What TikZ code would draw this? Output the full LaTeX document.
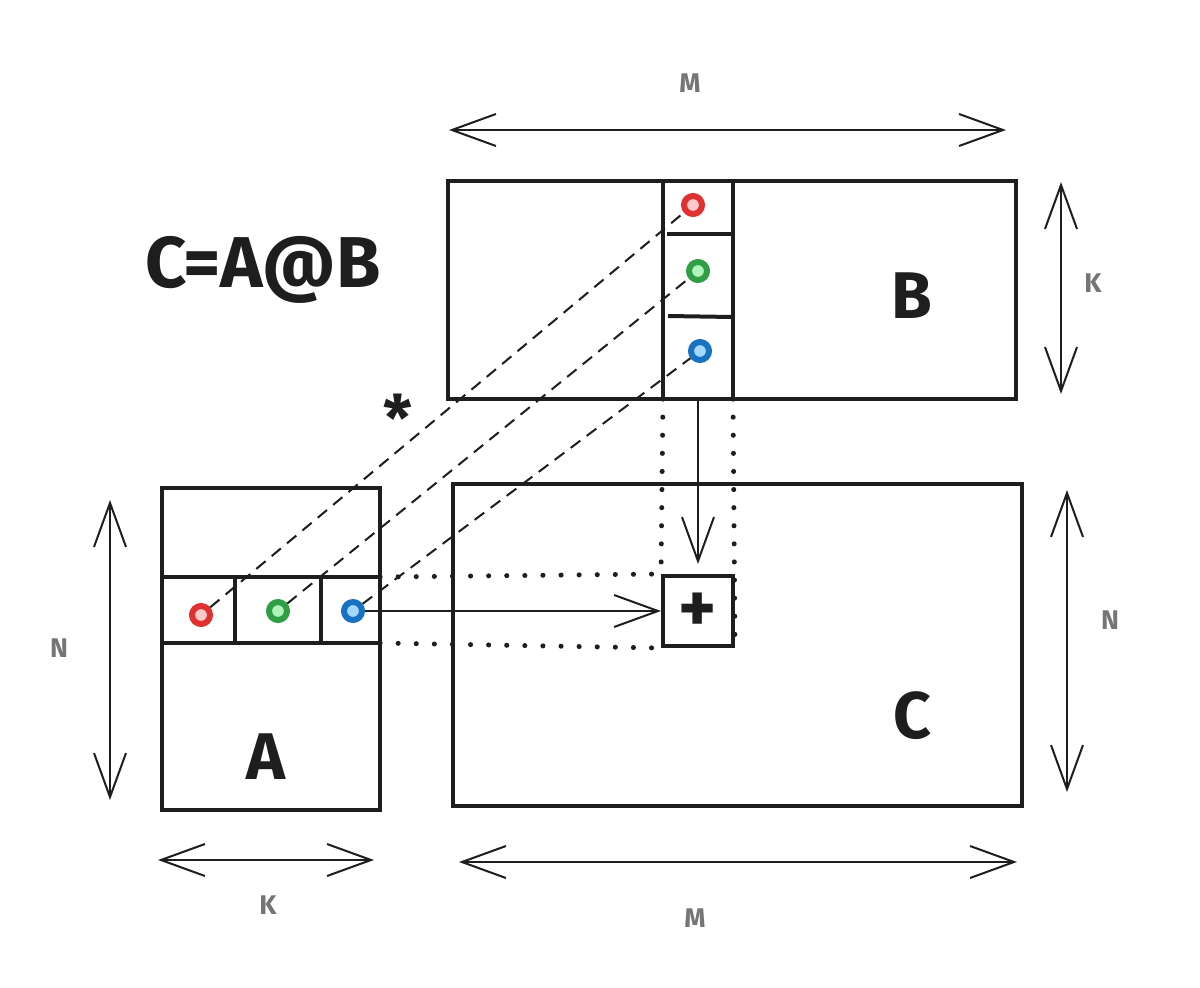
\documentclass[tikz,border=0pt]{standalone}
\usepackage{fontspec}
\setmainfont{Fira Sans}
\usetikzlibrary{arrows.meta}
\definecolor{ink}{HTML}{1E1E1E}
\definecolor{dimgrey}{HTML}{757575}
\definecolor{redS}{HTML}{E03131}\definecolor{redF}{HTML}{FFC9C9}
\definecolor{grnS}{HTML}{2F9E44}\definecolor{grnF}{HTML}{B2F2BB}
\definecolor{bluS}{HTML}{1971C2}\definecolor{bluF}{HTML}{A5D8FF}
\tikzset{
  mat/.style={draw=ink, line width=4pt, inner sep=0pt},
  divider/.style={draw=ink, line width=4pt},
  dimarrow/.style={draw=ink, line width=2pt,
    {Straight Barb[length=44pt,width=32pt]}-{Straight Barb[length=44pt,width=32pt]}},
  flowarrow/.style={draw=ink, line width=2pt, -{Straight Barb[length=44pt,width=32pt]}},
  dimlabel/.style={text=dimgrey, font=\fontsize{27}{27}\selectfont\bfseries, inner sep=0pt},
  biglabel/.style={text=ink, font=\fontsize{66}{66}\selectfont\bfseries, inner sep=0pt},
  dotmark/.style={circle, draw=#1S, fill=#1F, line width=6pt, minimum size=18pt, inner sep=0pt},
  dashln/.style={draw=ink, line width=2pt, dash pattern=on 12pt off 8pt},
  dotln/.style={draw=ink, line width=5pt, line cap=round, dash pattern=on 0.1pt off 18pt},
}
\begin{document}
\begin{tikzpicture}[x=1pt,y=-1pt]
\useasboundingbox[fill=white] (0,0) rectangle (1200,988);
% matrices
\node[mat, minimum width=568pt, minimum height=218pt] (B) at (732,290) {};
\node[mat, minimum width=218pt, minimum height=322pt] (A) at (271,649) {};
\node[mat, minimum width=569pt, minimum height=322pt] (C) at (737.5,645) {};
\node[mat, minimum width=70pt, minimum height=70pt] (P) at (698,611) {};
\node[biglabel, font=\fontsize{72}{72}\selectfont\bfseries] (plus) at (698,613) {+};
% B column
\coordinate (bcl) at (663,181); \coordinate (bclb) at (663,399);
\coordinate (bcr) at (733,181); \coordinate (bcrb) at (733,399);
\draw[divider] (bcl) -- (bclb);
\draw[divider] (bcr) -- (bcrb);
\draw[divider] (667,234) -- (731,234);
\draw[divider] (668,316) -- (733,317);
% A row
\coordinate (art) at (162,577); \coordinate (arte) at (380,577);
\coordinate (arb) at (162,643); \coordinate (arbe) at (380,643);
\draw[divider] (art) -- (arte);
\draw[divider] (arb) -- (arbe);
\draw[divider] (235,577) -- (235,643);
\draw[divider] (321,577) -- (321,643);
% labels
\node[biglabel] (Bl) at (912,296) {B};
\node[biglabel] (Al) at (266,757) {A};
\node[biglabel] (Cl) at (912,716) {C};
\node[biglabel, font=\fontsize{72}{72}\selectfont\bfseries] (eq) at (263,270) {C=A@B};
\node[text=ink, font=\fontsize{64}{64}\selectfont\bfseries, inner sep=0pt] (star) at (398,418) {*};
% dots
\node[dotmark=red] (rB) at (693,205) {};
\node[dotmark=grn] (gB) at (698,271) {};
\node[dotmark=blu] (bB) at (700,351) {};
\node[dotmark=red] (rA) at (201,615) {};
\node[dotmark=grn] (gA) at (278,611) {};
\node[dotmark=blu] (bA) at (353,611) {};
% dashed products
\draw[dashln] (rA) -- (rB);
\draw[dashln] (gA) -- (gB);
\draw[dashln] (bA) -- (bB);
% dotted guides
\draw[dotln] (bclb) -- (P.north west);
\draw[dotln] (bcrb) -- (P.south east);
\draw[dotln] (arte) -- (P.north west);
\draw[dotln] (arbe) -- (P.south west);
% flow arrows
\coordinate (colbot) at (698,400);
\draw[flowarrow, shorten >=10pt] (colbot) -- (P.north);
\draw[flowarrow] (bA) -- (P.west);
% dimension arrows
\coordinate (mt1) at (449,130); \coordinate (mt2) at (1006,130);
\draw[dimarrow] (mt1) -- (mt2);
\node[dimlabel] (mtl) at (690,83) {M};
\coordinate (kr1) at (1061,182); \coordinate (kr2) at (1061,394);
\draw[dimarrow] (kr1) -- (kr2);
\node[dimlabel] (krl) at (1093,283) {K};
\coordinate (nl1) at (110,500); \coordinate (nl2) at (110,800);
\draw[dimarrow] (nl1) -- (nl2);
\node[dimlabel] (nll) at (59,648) {N};
\coordinate (kb1) at (158,860); \coordinate (kb2) at (374,860);
\draw[dimarrow] (kb1) -- (kb2);
\node[dimlabel] (kbl) at (268,905) {K};
\coordinate (mb1) at (459,862); \coordinate (mb2) at (1017,862);
\draw[dimarrow] (mb1) -- (mb2);
\node[dimlabel] (mbl) at (695,918) {M};
\coordinate (nr1) at (1067,490); \coordinate (nr2) at (1067,792);
\draw[dimarrow] (nr1) -- (nr2);
\node[dimlabel] (nrl) at (1110,620) {N};
\end{tikzpicture}
\end{document}
